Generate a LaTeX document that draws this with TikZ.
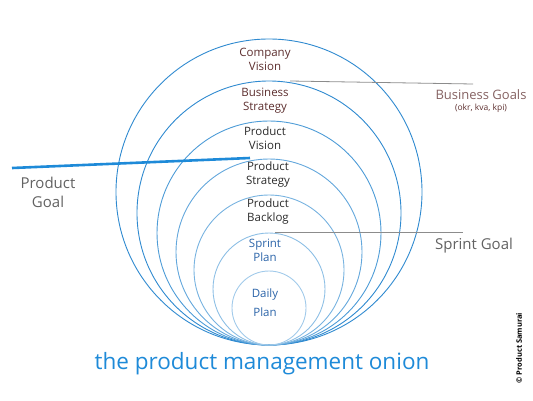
\documentclass[tikz,border=0pt]{standalone}
\usepackage{fontspec}
\setmainfont{Open Sans}
\usepackage{tikz}
\usetikzlibrary{
  positioning, calc
}
\definecolor{colorRing}{HTML}{2F8AD0}
\definecolor{colorGoal}{HTML}{8C8C8C}
\definecolor{colorBrown}{HTML}{5C2E2E}
\definecolor{colorInk}{HTML}{2B2B2B}
\definecolor{colorPlan}{HTML}{2A63A8}
\definecolor{colorTitle}{HTML}{1E8AD8}

\begin{document}
\begin{tikzpicture}[x=1pt, y=-1pt,
  ring/.style={line width=0.9pt},
  layer/.style={align=center, font=\fontsize{11.5}{14}\selectfont, inner sep=0pt},
  goalline/.style={colorGoal, line width=0.8pt},
  goaltext/.style={colorGoal!70!black, font=\fontsize{15}{19}\selectfont, align=center, inner sep=0pt}
]
\useasboundingbox (0,0) rectangle (533,400);
% rings of the onion, all touching at the bottom
\foreach \r/\c in {153/colorRing, 132/colorRing, 112/colorRing!85, 93/colorRing!75,
                   75/colorRing!65, 56/colorRing!55, 37/colorRing!45}
  \draw[ring, \c] (269,{345-\r}) circle[radius=\r];

\node[layer, colorBrown] (company) at (265,59) {Company\\Vision};
\node[layer, colorBrown] (business) at (265,101) {Business\\Strategy};
\node[layer, colorInk] (pvision) at (265,138) {Product\\Vision};
\node[layer, colorInk] (pstrategy) at (268,175) {Product\\Strategy};
\node[layer, colorInk] (backlog) at (268,212) {Product\\Backlog};
\node[layer, colorPlan] (sprint) at (265,250) {Sprint\\Plan};
\node[layer, colorPlan] (daily) at (265,303) {Daily\\[5pt]Plan};

% goals
\coordinate (bg-start) at (290,81);
\coordinate (bg-end) at (473,84);
\draw[goalline] (bg-start) -- (bg-end);
\node[goaltext, colorBrown!75, font=\fontsize{13}{16}\selectfont] (bgoals) at (481,95) {Business Goals};
\node[goaltext, colorBrown, font=\fontsize{8.5}{10}\selectfont, below=4pt of bgoals] (bgkpi) {(okr, kva, kpi)};

\coordinate (sg-start) at (275,232);
\coordinate (sg-end) at (463,232);
\draw[goalline] (sg-start) -- (sg-end);
\node[goaltext] (sgoal) at (474,246) {Sprint Goal};

\coordinate (pg-start) at (12,168);
\coordinate (pg-end) at (250,158);
\draw[colorTitle, line width=2.6pt] (pg-start) -- (pg-end);
\node[goaltext] (pgoal) at (48,192) {Product\\Goal};

\node[colorTitle, font=\fontsize{22.5}{26}\selectfont] (title) at (262,364) {the product management onion};
\node[rotate=90, font=\fontsize{7.5}{8}\selectfont\bfseries] (copy) at (519,348) {\textcopyright{} Product Samurai};
\end{tikzpicture}
\end{document}
